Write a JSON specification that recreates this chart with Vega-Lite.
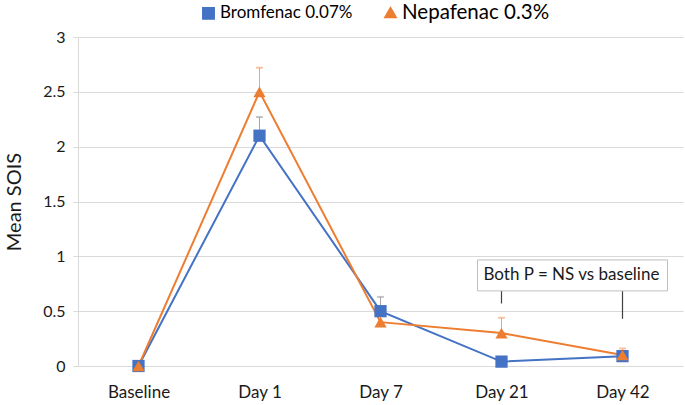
{
  "$schema": "https://vega.github.io/schema/vega-lite/v6.json",
  "width": 605,
  "height": 329,
  "autosize": {"type": "none"},
  "padding": {"left": 78, "top": 37, "right": 2, "bottom": 39},
  "background": "white",
  "config": {
    "view": {"stroke": null},
    "font": "Lato",
    "axis": {"labelFont": "Lato", "titleFont": "Lato", "labelColor": "#1a1a1a", "titleColor": "#1a1a1a"},
    "legend": {"labelFont": "Lato", "labelColor": "#000000", "labelLimit": 300}
  },
  "datasets": {
    "series": [
      {"day": "Baseline", "series": "Bromfenac 0.07%", "mean": 0, "upper": null},
      {"day": "Day 1", "series": "Bromfenac 0.07%", "mean": 2.1, "upper": 2.27},
      {"day": "Day 7", "series": "Bromfenac 0.07%", "mean": 0.5, "upper": 0.63},
      {"day": "Day 21", "series": "Bromfenac 0.07%", "mean": 0.04, "upper": null},
      {"day": "Day 42", "series": "Bromfenac 0.07%", "mean": 0.09, "upper": 0.13},
      {"day": "Baseline", "series": "Nepafenac 0.3%", "mean": 0, "upper": null},
      {"day": "Day 1", "series": "Nepafenac 0.3%", "mean": 2.5, "upper": 2.72},
      {"day": "Day 7", "series": "Nepafenac 0.3%", "mean": 0.4, "upper": null},
      {"day": "Day 21", "series": "Nepafenac 0.3%", "mean": 0.3, "upper": 0.44},
      {"day": "Day 42", "series": "Nepafenac 0.3%", "mean": 0.1, "upper": 0.16}
    ],
    "pointers": [
      {"day": "Day 21", "top": 0.71, "bottom": 0.57},
      {"day": "Day 42", "top": 0.71, "bottom": 0.43}
    ],
    "note": [
      {"from": "Day 21", "to": "Day 42", "top": 0.967, "bottom": 0.685, "mid": 0.826, "label": "Both P = NS vs baseline"}
    ]
  },
  "encoding": {
    "x": {
      "field": "day", "type": "nominal",
      "sort": ["Baseline", "Day 1", "Day 7", "Day 21", "Day 42"],
      "scale": {"type": "point", "padding": 0.5, "domain": ["Baseline", "Day 1", "Day 7", "Day 21", "Day 42"]},
      "axis": {"title": null, "labelAngle": 0, "labelFontSize": 17, "domain": false, "ticks": false, "grid": false, "labelPadding": 18}
    }
  },
  "layer": [
    {
      "data": {"name": "series"},
      "mark": {"type": "rule", "strokeWidth": 1},
      "encoding": {
        "y": {
          "field": "mean", "type": "quantitative",
          "scale": {"domain": [0, 3]},
          "axis": {
            "title": "Mean SOIS", "titleFontSize": 20, "titleFontWeight": "normal", "titlePadding": 18,
            "labelFontSize": 16, "labelPadding": 8, "values": [0, 0.5, 1, 1.5, 2, 2.5, 3], "format": "~g",
            "gridColor": "#D9D9D9", "domainColor": "#D9D9D9", "tickColor": "#D9D9D9", "tickSize": 5
          }
        },
        "y2": {"field": "upper"},
        "stroke": {"field": "series", "type": "nominal", "scale": {"range": ["#A5A5A5", "#F4A36C"]}, "legend": null}
      }
    },
    {
      "data": {"name": "series"},
      "mark": {"type": "tick", "orient": "horizontal", "size": 6, "thickness": 1, "filled": false},
      "encoding": {
        "y": {"field": "upper", "type": "quantitative"},
        "stroke": {"field": "series", "type": "nominal", "legend": null}
      }
    },
    {
      "data": {"name": "series"},
      "mark": {"type": "line", "strokeWidth": 2},
      "encoding": {
        "y": {"field": "mean", "type": "quantitative"},
        "color": {"field": "series", "type": "nominal", "scale": {"domain": ["Bromfenac 0.07%", "Nepafenac 0.3%"], "range": ["#4472C4", "#ED7D31"]},
          "legend": {"title": null, "orient": "none", "legendX": 122, "legendY": -33, "direction": "horizontal", "symbolSize": 130, "columnPadding": 28, "labelOffset": 3,
            "labelFontSize": {"expr": "datum.value == 'Nepafenac 0.3%' ? 20.5 : 17"}}}
      }
    },
    {
      "data": {"name": "series"},
      "mark": {"type": "point", "filled": true, "opacity": 1, "size": 150},
      "encoding": {
        "y": {"field": "mean", "type": "quantitative"},
        "color": {"field": "series", "type": "nominal",
          "legend": {"title": null, "orient": "none", "legendX": 122, "legendY": -33, "direction": "horizontal", "symbolSize": 130, "columnPadding": 28, "labelOffset": 3,
            "labelFontSize": {"expr": "datum.value == 'Nepafenac 0.3%' ? 20.5 : 17"}}},
        "shape": {"field": "series", "type": "nominal", "scale": {"domain": ["Bromfenac 0.07%", "Nepafenac 0.3%"], "range": ["square", "triangle-up"]},
          "legend": {"title": null, "orient": "none", "legendX": 122, "legendY": -33, "direction": "horizontal", "symbolSize": 130, "columnPadding": 28, "labelOffset": 3,
            "labelFontSize": {"expr": "datum.value == 'Nepafenac 0.3%' ? 20.5 : 17"}}}
      }
    },
    {
      "data": {"name": "pointers"},
      "mark": {"type": "rule", "color": "#404040", "strokeWidth": 1.2},
      "encoding": {
        "y": {"field": "top", "type": "quantitative"},
        "y2": {"field": "bottom"}
      }
    },
    {
      "data": {"name": "note"},
      "mark": {"type": "rect", "fill": "white", "stroke": "#BFBFBF", "strokeWidth": 1, "xOffset": -24, "x2Offset": 45},
      "encoding": {
        "x": {"field": "from", "type": "nominal"},
        "x2": {"field": "to"},
        "y": {"field": "top", "type": "quantitative"},
        "y2": {"field": "bottom"}
      }
    },
    {
      "data": {"name": "note"},
      "mark": {"type": "text", "align": "left", "dx": -18, "fontSize": 17, "color": "#1a1a1a", "font": "Lato"},
      "encoding": {
        "x": {"field": "from", "type": "nominal"},
        "y": {"field": "mid", "type": "quantitative"},
        "text": {"field": "label"}
      }
    }
  ]
}
